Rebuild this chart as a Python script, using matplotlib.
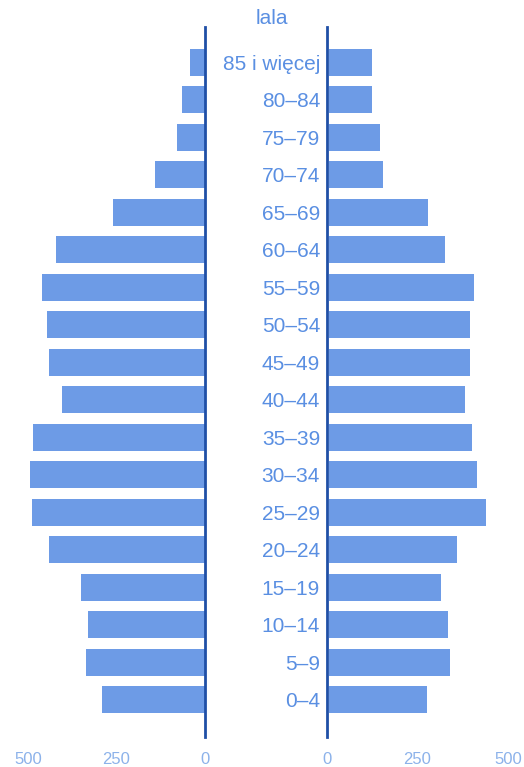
import matplotlib.pyplot as plt

# grupy wieku (od najmłodszej)
age_groups = ['0–4', '5–9', '10–14', '15–19', '20–24', '25–29', '30–34', '35–39',
              '40–44', '45–49', '50–54', '55–59', '60–64', '65–69', '70–74',
              '75–79', '80–84', '85 i więcej']
left_vals = [290, 335, 330, 350, 440, 490, 495, 485, 405, 440, 445, 460,
             420, 260, 140, 80, 65, 42]
right_vals = [270, 335, 330, 310, 355, 435, 410, 395, 375, 390, 390, 400,
              320, 275, 150, 140, 118, 118]
tick_vals = [0, 250, 500]

bar_color = '#6d9be6'
text_color = '#5a8fe2'
tick_color = '#8cb2ea'
line_color = '#1f4fa6'

plt.rcParams['font.family'] = ['Liberation Sans', 'DejaVu Sans']

W, H = 524, 767
fig = plt.figure(figsize=(W / 100, H / 100), dpi=100)

bottom = (H - 737) / H
height = 710 / H
ax_l = fig.add_axes([0, bottom, 205 / W, height])
ax_r = fig.add_axes([327 / W, bottom, (W - 327) / W, height])

y = list(range(len(age_groups)))

ax_l.barh(y, left_vals, height=0.72, color=bar_color)
ax_l.set_xlim(579, 0)
ax_r.barh(y, right_vals, height=0.72, color=bar_color, left=5)
ax_r.set_xlim(0, 544)

for ax in (ax_l, ax_r):
    ax.set_ylim(-0.99, 17.94)
    for s in ax.spines.values():
        s.set_visible(False)
    ax.set_xticks(tick_vals)
    ax.set_xticklabels([str(v) for v in tick_vals])
    ax.tick_params(axis='x', length=0, pad=11, labelsize=12, labelcolor=tick_color)

ax_l.set_yticks([])
ax_l.spines['right'].set_visible(True)
ax_l.spines['right'].set_color(line_color)
ax_l.spines['right'].set_linewidth(2)

ax_r.spines['left'].set_visible(True)
ax_r.spines['left'].set_color(line_color)
ax_r.spines['left'].set_linewidth(2)
ax_r.set_yticks(y)
ax_r.set_yticklabels(age_groups)
ax_r.tick_params(axis='y', length=0, pad=5, labelsize=15, labelcolor=text_color)

fig.text(272 / W, 1 - 18 / H, 'lala', ha='center', va='center',
         fontsize=15, color=text_color)

fig.savefig('out.png', dpi=100)
